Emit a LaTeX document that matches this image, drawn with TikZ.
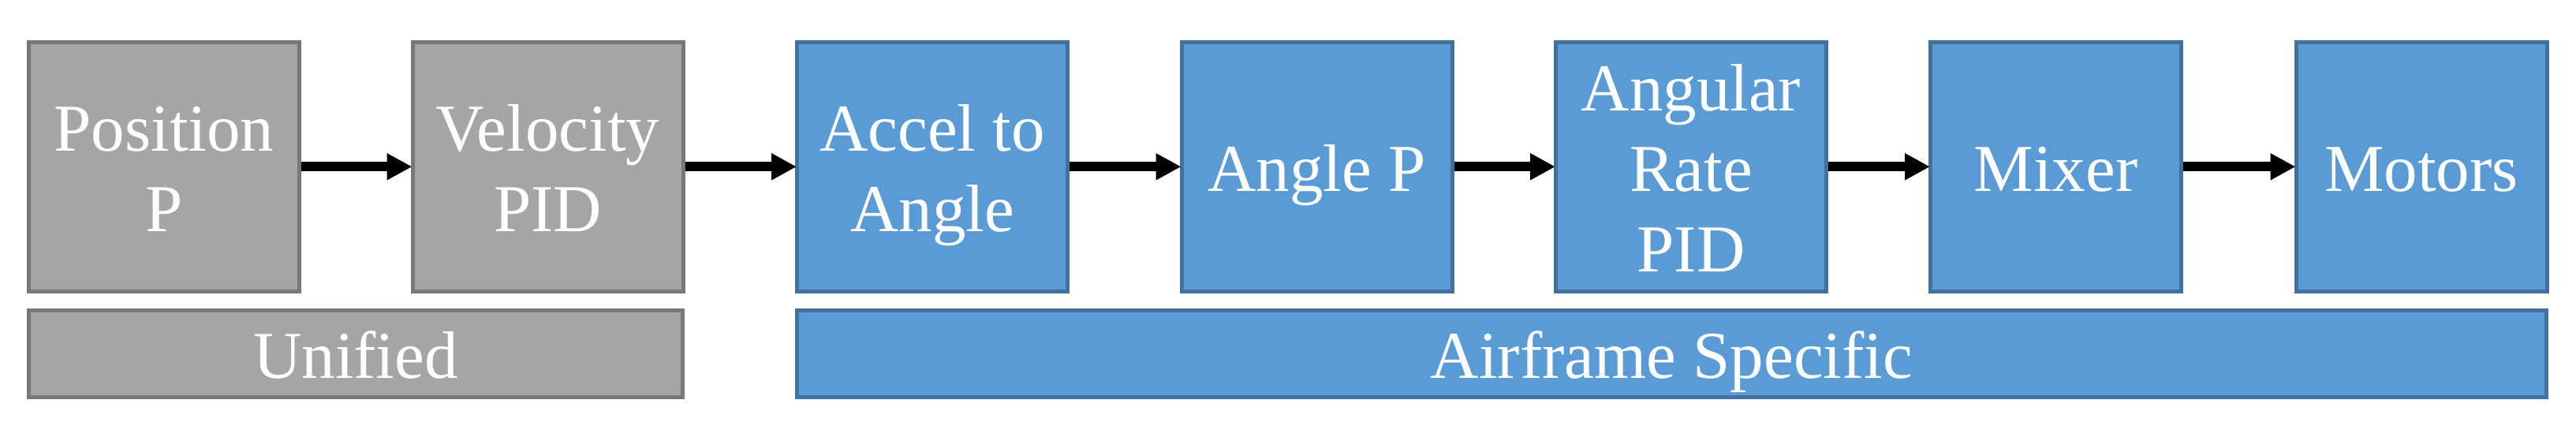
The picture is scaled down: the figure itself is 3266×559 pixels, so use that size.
\documentclass[tikz,border=0pt]{standalone}
\usepackage{fontspec}
\setmainfont{Liberation Serif}
\usetikzlibrary{arrows.meta}
\definecolor{gfill}{HTML}{A5A5A5}
\definecolor{gline}{HTML}{787878}
\definecolor{bfill}{HTML}{5B9BD5}
\definecolor{bline}{HTML}{41719C}
\newcommand\lstrut{\rule[-19pt]{0pt}{100pt}}
\tikzset{
  blk/.style={draw, line width=5pt, inner sep=0pt, align=center, text=white,
    font=\fontsize{85}{102}\selectfont, minimum height=316pt, minimum width=343pt},
  gblk/.style={blk, fill=gfill, draw=gline},
  bblk/.style={blk, fill=bfill, draw=bline},
  bar/.style={blk, minimum height=110pt},
  flow/.style={line width=12pt, -{Triangle[length=32pt,width=32pt]}, shorten >=-2pt}
}
\begin{document}
\begin{tikzpicture}[x=1pt,y=-1pt]
\useasboundingbox (0,0) rectangle (3266,559);
\node[gblk] (pos) at (208,211.3) {\lstrut Position\\\lstrut P};
\node[gblk] (vel) at (694.5,211.3) {\lstrut Velocity\\\lstrut PID};
\node[bblk] (acc) at (1182,211.3) {\lstrut Accel to\\\lstrut Angle};
\node[bblk] (ang) at (1669.5,211.3) {\lstrut Angle P};
\node[bblk] (rate) at (2144,211.3) {\lstrut Angular\\\lstrut Rate\\\lstrut PID};
\node[bblk, minimum width=318pt] (mix) at (2606.5,211.3) {\lstrut Mixer};
\node[bblk, minimum width=318pt] (mot) at (3070,211.3) {\lstrut Motors};
\node[gblk, bar, minimum width=829pt] (uni) at (451,448.5) {\lstrut Unified};
\node[bblk, bar, minimum width=2218pt] (air) at (2119.5,448.5) {\lstrut Airframe Specific};
\draw[flow] (pos) -- (vel);
\draw[flow] (vel) -- (acc);
\draw[flow] (acc) -- (ang);
\draw[flow] (ang) -- (rate);
\draw[flow] (rate) -- (mix);
\draw[flow] (mix) -- (mot);
\end{tikzpicture}
\end{document}
